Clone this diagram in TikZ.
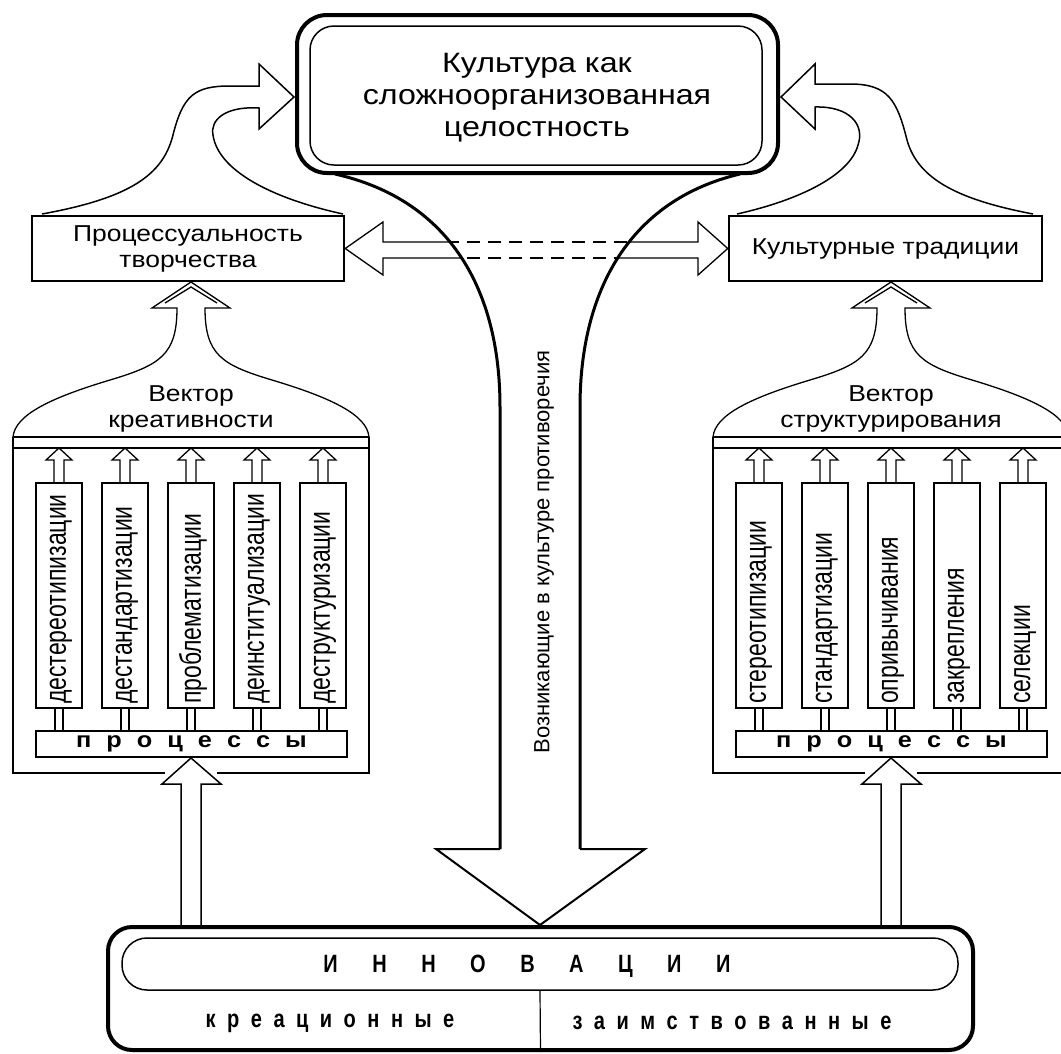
\documentclass[tikz,border=0pt]{standalone}
\usepackage{fontspec}
\setmainfont{Liberation Sans}[FakeStretch=1.15]
\newfontfamily\plainf{Liberation Sans}
\newfontfamily\narrowf{Liberation Sans}[FakeStretch=0.8]
\newcommand\spreadtxt[2]{\def\spreadgap{#1}\spreadit#2\relax\unkern}
\def\spreadit#1{\ifx#1\relax\else#1\kern\spreadgap\relax\expandafter\spreadit\fi}
\tikzset{
 thinl/.style={line width=1.3pt},
 colbx/.style={draw, line width=1.5pt, minimum width=46pt, minimum height=225pt, inner sep=0pt},
 coltxt/.style={rotate=90, yscale=1.3, anchor=west, inner sep=0pt, font=\plainf\fontsize{23}{27}\selectfont},
 sidebox/.style={draw, line width=2.5pt, minimum height=65pt, align=center, font=\fontsize{23}{26}\selectfont},
 spacedbold/.style={inner sep=0pt, font=\narrowf\bfseries\fontsize{25}{30}\selectfont},
}
\newcommand\colunit[3]{%
 \node[colbx] (#2) at (#1,595.5) {};
 \node[coltxt] (#2t) at ({#1+2},704) {#3};
 \draw[thinl] ({#1-5},483) -- ({#1-5},460) -- ({#1-13},460) -- (#1,448) -- ({#1+13},460) -- ({#1+5},460) -- ({#1+5},483);
 \draw[thinl] ({#1-4},708) -- ({#1-4},731) ({#1+4},708) -- ({#1+4},731);
}
\newcommand\drawpanel[8]{%
\begin{scope}[xshift=#1]
 \draw[thinl] (13,437) .. controls (15,415) and (50,398) .. (110,380) .. controls (160,365) and (177,355) .. (177,308) -- (152,308) -- (191,282) -- (230,308) -- (205,308) .. controls (205,355) and (222,365) .. (272,380) .. controls (332,398) and (367,415) .. (369,437);
 \draw[thinl] (165,303) -- (191,287) -- (217,303);
 \draw[thinl] (13,437) -- (369,437) (13,448) -- (369,448);
 \draw[thinl] (165,773) -- (13,773) -- (13,437) (217,773) -- (369,773) -- (369,437);
 \node[align=center, font=\fontsize{23}{26}\selectfont] (#2title) at (191,409) {Вектор\\#3};
 \node[draw, thinl, minimum width=311pt, minimum height=26pt, inner sep=0pt, font=\bfseries\fontsize{22}{26}\selectfont] (#2bar) at (191.5,744) {\spreadtxt{15pt}{процессы}};
 \colunit{59}{#2a}{#4}
 \colunit{125}{#2b}{#5}
 \colunit{191}{#2c}{#6}
 \colunit{257}{#2d}{#7}
 \colunit{323}{#2e}{#8}
\end{scope}}
\begin{document}
\begin{tikzpicture}[x=1pt,y=-1pt]
\useasboundingbox (0,0) rectangle (1061,1053);
\fill[white] (0,0) rectangle (1061,1053);
\clip (0,0) rectangle (1061,1053);

% top box
\node[draw, line width=4pt, rounded corners=30pt, minimum width=481pt, minimum height=158pt] (cultout) at (537.5,94) {};
\node[draw, line width=1.5pt, rounded corners=24pt, minimum width=452pt, minimum height=139pt] (cult) at (536,95.5) {};
\node[align=center, font=\fontsize{28}{32}\selectfont] (culttext) at (537,97.5) {Культура как\\сложноорганизованная\\целостность};

% side boxes
\node[sidebox, minimum width=312pt] (proc) at (188,248.5) {Процессуальность\\творчества};
\node[sidebox, minimum width=313pt] (trad) at (885.5,248.5) {Культурные традиции};

% curved arrows to the top box
\draw[line width=1.5pt] (42,214) .. controls (130,198) and (163,175) .. (173,135) .. controls (183,95) and (195,86) .. (230,86) -- (259,86) -- (259,64) -- (294,97) -- (259,129) -- (259,108) .. controls (225,106) and (210,120) .. (213,135) .. controls (218,170) and (270,198) .. (343,214);
\draw[line width=1.5pt] (1033,214) .. controls (960,200) and (918,180) .. (907,140) .. controls (897,100) and (888,84) .. (850,84) -- (815,84) -- (815,64) -- (781,97) -- (815,129) -- (815,107) .. controls (850,106) and (865,125) .. (858,145) .. controls (850,175) and (800,200) .. (737,214);

% double horizontal arrow
\draw[thinl] (proc.east) -- (383,222) -- (383,242) -- (698,242) -- (698,222) -- (trad.west) -- (698,275) -- (698,258) -- (383,258) -- (383,275) -- cycle;
\begin{scope}
 \clip (335,174) .. controls (450,200) and (500,290) .. (500,407) -- (580,407) .. controls (580,290) and (630,200) .. (740,174) -- cycle;
 \fill[white] (383,236) rectangle (698,264);
 \draw[line width=2.2pt, dash pattern=on 13pt off 8pt] (383,242) -- (698,242) (383,258) -- (698,258);
\end{scope}

% central channel arrow
\draw[line width=3pt] (335,174) .. controls (450,200) and (500,290) .. (500,407) -- (500,849);
\draw[line width=3pt] (740,174) .. controls (630,200) and (580,290) .. (580,407) -- (580,849);
\draw[line width=2pt] (500,849) -- (436,849) -- (540,925) -- (645,849) -- (580,849);
\node[rotate=90, font=\plainf\fontsize{22}{26}\selectfont] (contr) at (544,552) {Возникающие в культуре противоречия};

% panels
\drawpanel{0pt}{L}{креативности}{дестереотипизации}{дестандартизации}{проблематизации}{деинституализации}{деструктуризации}
\drawpanel{700pt}{R}{структурирования}{стереотипизации}{стандартизации}{опривычивания}{закрепления}{селекции}

% bottom box
\node[draw, line width=4pt, rounded corners=24pt, minimum width=865pt, minimum height=123pt] (innov) at (540.5,988.5) {};
\node[draw, line width=1.5pt, rounded corners=25pt, minimum width=836pt, minimum height=52pt] (innovcap) at (540,964) {};
\node[spacedbold] (innovtext) at (527,966) {\spreadtxt{34.5pt}{ИННОВАЦИИ}};
\draw[line width=1.2pt] (innovcap.south) -- (innov.south);
\node[spacedbold] (creat) at (330,1023) {\spreadtxt{11.5pt}{креационные}};
\node[spacedbold] (borrow) at (732,1023) {\spreadtxt{11.5pt}{заимствованные}};

% up arrows from the bottom box to the panels
\draw[line width=1.5pt] (181,927) -- (181,784) -- (162,784) -- (191,758) -- (221,784) -- (201,784) -- (201,927);
\draw[line width=1.5pt] (881,927) -- (881,784) -- (862,784) -- (891,758) -- (921,784) -- (901,784) -- (901,927);
\end{tikzpicture}
\end{document}
